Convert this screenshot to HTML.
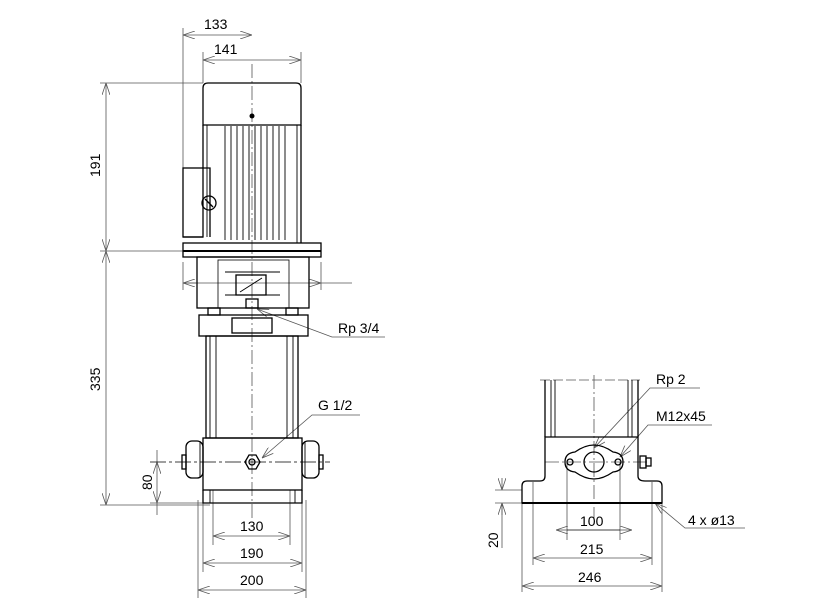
<!DOCTYPE html>
<html><head><meta charset="utf-8"><style>
html,body{margin:0;padding:0;background:#fff}
svg{display:block}
text{font-family:"Liberation Sans",sans-serif;font-size:14px;fill:#000}
</style></head><body>
<svg width="835" height="611" viewBox="0 0 835 611" xmlns="http://www.w3.org/2000/svg">
<defs>
<marker id="a" viewBox="0 0 12 8" refX="12" refY="4" markerWidth="12" markerHeight="8" markerUnits="userSpaceOnUse" orient="auto-start-reverse">
<path d="M0,0 L12,4 L0,8" fill="none" stroke="#555" stroke-width="0.8"/></marker>
</defs>
<g fill="none" stroke="#555" stroke-width="0.8">
<line x1="183" y1="28" x2="183" y2="168"/>
<line x1="203" y1="52" x2="203" y2="83"/>
<line x1="301" y1="52" x2="301" y2="83"/>
<line x1="100" y1="83" x2="203" y2="83"/>
<line x1="100" y1="251" x2="183" y2="251"/>
<line x1="100" y1="505" x2="210" y2="505"/>
<line x1="150" y1="503" x2="210" y2="503"/>
<line x1="213" y1="490" x2="213" y2="545"/>
<line x1="290" y1="490" x2="290" y2="545"/>
<line x1="203" y1="490" x2="203" y2="572"/>
<line x1="302" y1="490" x2="302" y2="572"/>
<line x1="198" y1="500" x2="198" y2="598"/>
<line x1="306" y1="500" x2="306" y2="598"/>
<line x1="183" y1="35" x2="252" y2="35" marker-start="url(#a)" marker-end="url(#a)"/>
<line x1="203" y1="60" x2="301" y2="60" marker-start="url(#a)" marker-end="url(#a)"/>
<line x1="106" y1="83" x2="106" y2="251" marker-start="url(#a)" marker-end="url(#a)"/>
<line x1="106" y1="251" x2="106" y2="505" marker-start="url(#a)" marker-end="url(#a)"/>
<line x1="157" y1="462" x2="157" y2="503" marker-start="url(#a)" marker-end="url(#a)"/>
<line x1="157" y1="503" x2="157" y2="515"/>
<line x1="157" y1="450" x2="157" y2="462"/>
<line x1="213" y1="536" x2="290" y2="536" marker-start="url(#a)" marker-end="url(#a)"/>
<line x1="203" y1="563" x2="302" y2="563" marker-start="url(#a)" marker-end="url(#a)"/>
<line x1="198" y1="590" x2="306" y2="590" marker-start="url(#a)" marker-end="url(#a)"/>
<line x1="183" y1="283" x2="352" y2="283"/>
<line x1="183" y1="283" x2="196" y2="283" marker-start="url(#a)"/>
<line x1="310" y1="283" x2="321" y2="283" marker-end="url(#a)"/>
<line x1="183" y1="262" x2="183" y2="290"/>
<line x1="321" y1="262" x2="321" y2="290"/>
<line x1="252" y1="64" x2="252" y2="520" stroke-dasharray="14,3,2,3"/>
<line x1="150" y1="462" x2="330" y2="462" stroke="#000" stroke-dasharray="16,3,3,3"/>
<polyline points="257,309 332,337 385,337" marker-start="url(#a)"/>
<polyline points="262,458 312,415 360,415" marker-start="url(#a)"/>
</g>
<g fill="none" stroke="#000" stroke-width="1.3">
<path d="M203,125 L203,88 Q203,83 208,83 L296,83 Q301,83 301,88 L301,125 Z"/>
<path d="M203,125 L203,168 L210,168 L210,237 M301,125 L301,243"/>
<rect x="183" y="168" width="20" height="69"/>
<line x1="183" y1="237" x2="203" y2="237"/>
<rect x="183" y="243" width="138" height="14"/>
<line x1="183" y1="251" x2="321" y2="251" stroke-width="2"/>
<rect x="197" y="257" width="112" height="51"/>
<rect x="218" y="260" width="71" height="48" stroke-width="0.8"/>
<rect x="232" y="318" width="40" height="15"/>
<rect x="199" y="315" width="109" height="21"/>
<rect x="206" y="336" width="92" height="102"/>
<rect x="203" y="438" width="99" height="52"/>
<path d="M203,490 L203,503 L302,503 L302,490"/>
<rect x="186" y="441" width="17" height="37" rx="6"/>
<rect x="302" y="441" width="17" height="37" rx="6"/>
<rect x="182" y="455" width="4" height="14"/>
<rect x="319" y="455" width="4" height="14"/>
<circle cx="209" cy="203" r="7"/>
<line x1="205" y1="199" x2="213" y2="207"/>
<polygon points="245,462 249,455 256,455 260,462 256,469 249,469"/>
<circle cx="252" cy="462" r="3"/>
<rect x="246" y="299" width="12" height="9"/>
<rect x="208" y="308" width="12" height="7"/><rect x="286" y="308" width="12" height="7"/>
<rect x="236" y="275" width="30" height="20"/>
</g>
<g stroke="#000" stroke-width="0.9">
<line x1="207" y1="125" x2="207" y2="237"/><line x1="297" y1="125" x2="297" y2="243"/>
<line x1="225" y1="126" x2="225" y2="240"/><line x1="231" y1="126" x2="231" y2="240"/>
<line x1="237" y1="126" x2="237" y2="240"/><line x1="243" y1="126" x2="243" y2="240"/>
<line x1="249" y1="126" x2="249" y2="240"/><line x1="255" y1="126" x2="255" y2="240"/>
<line x1="261" y1="126" x2="261" y2="240"/><line x1="267" y1="126" x2="267" y2="240"/>
<line x1="273" y1="126" x2="273" y2="240"/><line x1="279" y1="126" x2="279" y2="240"/>
<line x1="285" y1="126" x2="285" y2="240"/>
<line x1="210" y1="336" x2="210" y2="438"/><line x1="216" y1="336" x2="216" y2="438"/>
<line x1="287" y1="336" x2="287" y2="438"/><line x1="293" y1="336" x2="293" y2="438"/>
<line x1="225" y1="272" x2="280" y2="272"/><line x1="225" y1="295" x2="280" y2="295"/>
<line x1="240" y1="292" x2="262" y2="278"/>
<line x1="200" y1="441" x2="200" y2="478"/><line x1="305" y1="441" x2="305" y2="478"/>
<line x1="210" y1="490" x2="210" y2="503"/><line x1="295" y1="490" x2="295" y2="503"/>
</g>
<circle cx="252" cy="116" r="2.5" fill="#000"/>

<g fill="none" stroke="#555" stroke-width="0.8">
<line x1="540" y1="380" x2="640" y2="380" stroke-dasharray="10,3"/>
<line x1="594" y1="375" x2="594" y2="520" stroke-dasharray="14,3,2,3"/>
<line x1="545" y1="462" x2="650" y2="462" stroke-dasharray="14,3,2,3"/>
<line x1="567" y1="462" x2="567" y2="540"/><line x1="620" y1="462" x2="620" y2="540"/>
<line x1="533" y1="482" x2="533" y2="565"/><line x1="652" y1="482" x2="652" y2="565"/>
<line x1="522" y1="503" x2="522" y2="592"/><line x1="662" y1="503" x2="662" y2="592"/>
<line x1="495" y1="490" x2="522" y2="490"/><line x1="495" y1="503" x2="522" y2="503"/>
<line x1="556" y1="530" x2="567" y2="530" marker-start="url(#a)"/>
<line x1="567" y1="530" x2="620" y2="530" stroke="#000"/>
<line x1="620" y1="530" x2="632" y2="530" marker-end="url(#a)"/>
<line x1="533" y1="558" x2="652" y2="558" marker-start="url(#a)" marker-end="url(#a)"/>
<line x1="522" y1="586" x2="662" y2="586" marker-start="url(#a)" marker-end="url(#a)"/>
<line x1="502" y1="478" x2="502" y2="490" marker-end="url(#a)"/>
<line x1="502" y1="515" x2="502" y2="503" marker-end="url(#a)"/>
<line x1="502" y1="503" x2="502" y2="548"/>
<polyline points="594,448 650,388 700,388" marker-start="url(#a)"/>
<polyline points="620,457 648,425 712,425" marker-start="url(#a)"/>
<polyline points="655,503 685,528 745,528" marker-start="url(#a)"/>
</g>
<g fill="none" stroke="#000" stroke-width="1.3">
<line x1="545" y1="380" x2="545" y2="437"/><line x1="638" y1="380" x2="638" y2="437"/>
<path d="M545,437 L638,437 L638,476 Q638,481 645,481 L657,481 Q662,481 662,486 L662,503 L522,503 L522,486 Q522,481 527,481 L540,481 Q545,481 545,476 Z"/>
<line x1="522" y1="503" x2="662" y2="503" stroke-width="2"/>
<path d="M565,462 Q565,453 575,452 Q585,445 594,445 Q603,445 613,452 Q623,453 623,462 Q623,471 613,472 Q603,479 594,479 Q585,479 575,472 Q565,471 565,462 Z"/>
<circle cx="594" cy="462" r="10"/>
<circle cx="570" cy="462" r="3"/><circle cx="618" cy="462" r="3"/>
<rect x="640" y="456" width="6" height="12"/><rect x="646" y="458" width="5" height="8"/>
</g>
<g stroke="#000" stroke-width="0.9">
<line x1="551" y1="380" x2="551" y2="437"/><line x1="555" y1="380" x2="555" y2="437"/>
<line x1="628" y1="380" x2="628" y2="437"/><line x1="632" y1="380" x2="632" y2="437"/>
</g>

<text x="204" y="29">133</text>
<text x="214" y="54">141</text>
<text transform="translate(100,177) rotate(-90)">191</text>
<text transform="translate(100,391) rotate(-90)">335</text>
<text transform="translate(152,490) rotate(-90)">80</text>
<text x="240" y="531">130</text>
<text x="240" y="558">190</text>
<text x="240" y="585">200</text>
<text x="338" y="333">Rp 3/4</text>
<text x="318" y="410">G 1/2</text>
<text x="656" y="384">Rp 2</text>
<text x="656" y="421">M12x45</text>
<text x="688" y="525">4 x ø13</text>
<text x="580" y="526">100</text>
<text x="580" y="554">215</text>
<text x="578" y="582">246</text>
<text transform="translate(498,548) rotate(-90)">20</text>
</svg>
</body></html>
